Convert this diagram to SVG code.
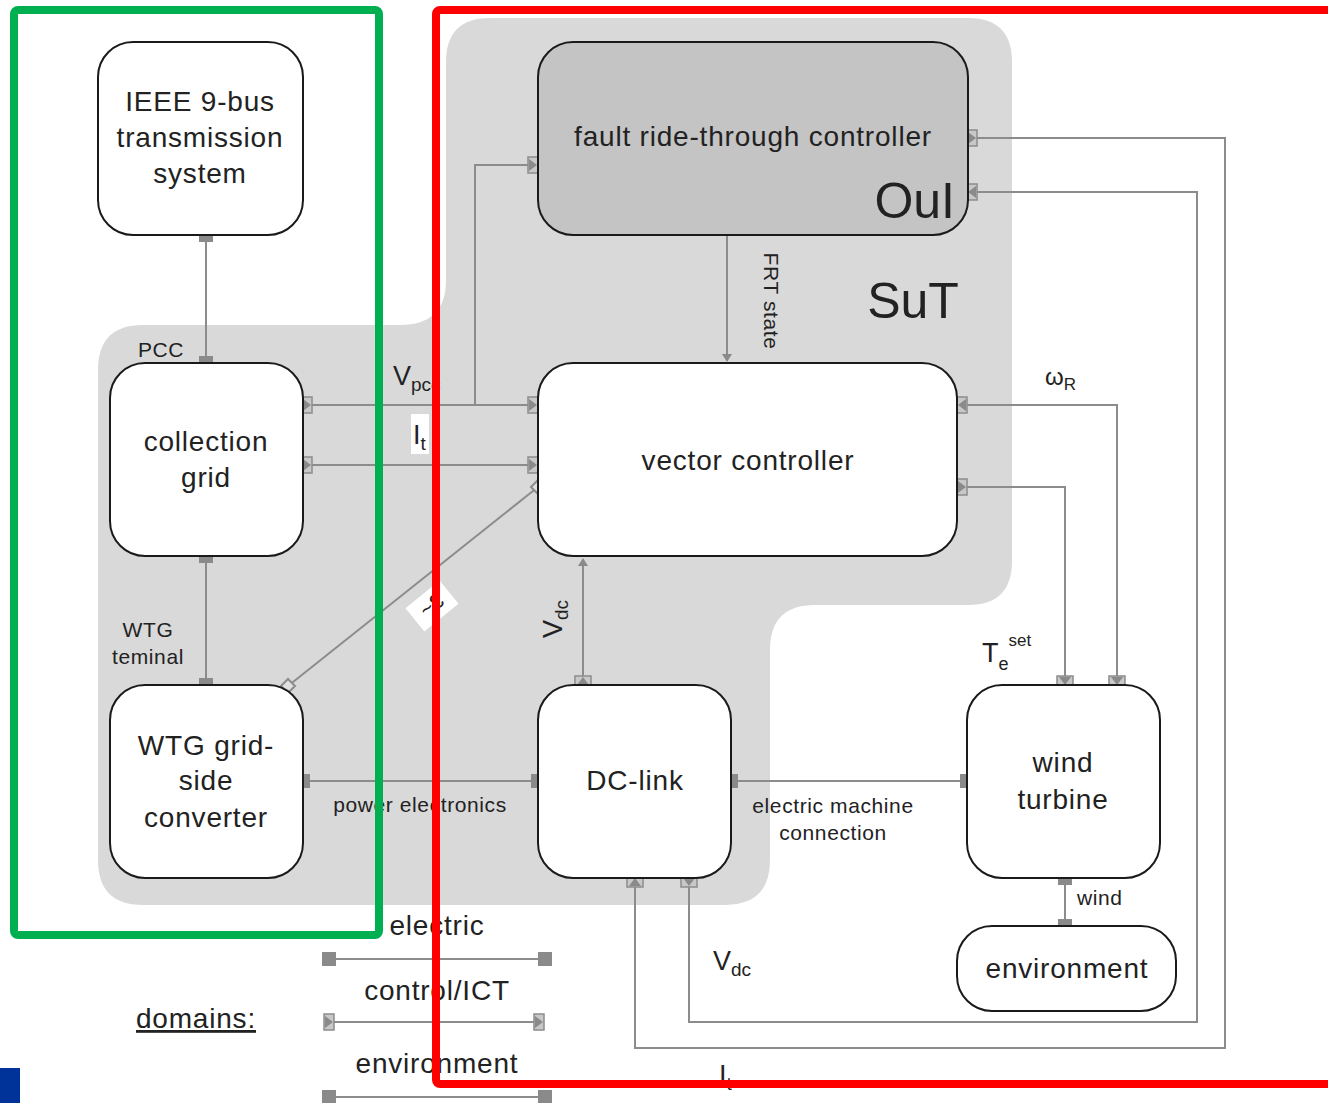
<svg xmlns="http://www.w3.org/2000/svg" width="1328" height="1103" viewBox="0 0 1328 1103">
  <style>
    text { font-family: "Liberation Sans", Arial, sans-serif; fill: #222; }
    .node { fill: #fff; stroke: #1a1a1a; stroke-width: 2; }
    .oui { fill: #c4c4c4; stroke: #1a1a1a; stroke-width: 2; }
    .lbl { font-size: 28px; letter-spacing: 0.8px; text-anchor: middle; }
    .small { font-size: 21px; letter-spacing: 0.6px; }
    .wire { fill: none; stroke: #8c8c8c; stroke-width: 2; }
    .ep { fill: #8a8a8a; }
    .cp { fill: #c8c8c8; stroke: #8c8c8c; stroke-width: 1.5; }
    .cptri { fill: #8a8a8a; }
  </style>
  <defs>
    <!-- electric port -->
    <rect id="ep" class="ep" x="-7" y="-7" width="14" height="14"/>
    <!-- control ports on vertical edges -->
    <g id="cpR"><rect class="cp" x="-5" y="-8" width="10" height="16"/><path class="cptri" d="M-4,-6 L4,0 L-4,6 Z"/></g>
    <g id="cpL"><rect class="cp" x="-5" y="-8" width="10" height="16"/><path class="cptri" d="M4,-6 L-4,0 L4,6 Z"/></g>
    <!-- control ports on horizontal edges -->
    <g id="cpD"><rect class="cp" x="-8" y="-5" width="16" height="10"/><path class="cptri" d="M-6,-4 L0,4 L6,-4 Z"/></g>
    <g id="cpU"><rect class="cp" x="-8" y="-5" width="16" height="10"/><path class="cptri" d="M-6,4 L0,-4 L6,4 Z"/></g>
    <!-- diamond port -->
    <path id="dp" d="M0,-7 L7,0 L0,7 L-7,0 Z" fill="#e0e0e0" stroke="#8c8c8c" stroke-width="2"/>
  </defs>

  <rect width="1328" height="1103" fill="#fff"/>

  <!-- system under test area -->
  <path id="sut-area" d="M490,18 H968 Q1012,18 1012,62 V561 Q1012,605 968,605 H815 Q770,605 770,650 V860 Q770,905 725,905 H143 Q98,905 98,860 V370 Q98,325 143,325 H400 Q446,325 446,280 V62 Q446,18 490,18 Z" fill="#d9d9d9"/>
  <text x="913" y="318" font-size="50" text-anchor="middle">SuT</text>

  <!-- connectors -->
  <g id="connectors">
    <line class="wire" x1="206" y1="235" x2="206" y2="363"/>
    <line class="wire" x1="206" y1="556" x2="206" y2="685"/>
    <line class="wire" x1="303" y1="781" x2="538" y2="781"/>
    <line class="wire" x1="731" y1="781" x2="967" y2="781"/>
    <line class="wire" x1="1065" y1="878" x2="1065" y2="926"/>
    <line class="wire" x1="303" y1="405" x2="533" y2="405"/>
    <polyline class="wire" points="475,405 475,165 533,165"/>
    <line class="wire" x1="303" y1="465" x2="533" y2="465"/>
    <line class="wire" x1="538" y1="487" x2="288" y2="686"/>
    <line class="wire" x1="727" y1="235" x2="727" y2="358"/>
    <path d="M722,354 L732,354 L727,362 Z" fill="#8a8a8a"/>
    <line class="wire" x1="583" y1="680" x2="583" y2="562"/>
    <path d="M578,566 L588,566 L583,558 Z" fill="#8a8a8a"/>
    <polyline class="wire" points="962,405 1117,405 1117,681"/>
    <polyline class="wire" points="962,487 1065,487 1065,681"/>
    <polyline class="wire" points="972,138 1225,138 1225,1048 635,1048 635,882"/>
    <polyline class="wire" points="972,192 1197,192 1197,1022 689,1022 689,882"/>

    <!-- ports -->
    <use href="#ep" x="206" y="235"/>
    <use href="#ep" x="206" y="363"/>
    <use href="#ep" x="206" y="556"/>
    <use href="#ep" x="206" y="685"/>
    <use href="#ep" x="303" y="781"/>
    <use href="#ep" x="538" y="781"/>
    <use href="#ep" x="731" y="781"/>
    <use href="#ep" x="967" y="781"/>
    <use href="#ep" x="1065" y="878"/>
    <use href="#ep" x="1065" y="926"/>
    <use href="#cpR" x="307" y="405"/>
    <use href="#cpR" x="307" y="465"/>
    <use href="#cpR" x="533" y="405"/>
    <use href="#cpR" x="533" y="465"/>
    <use href="#cpR" x="533" y="165"/>
    <use href="#cpR" x="972" y="138"/>
    <use href="#cpL" x="972" y="192"/>
    <use href="#cpL" x="962" y="405"/>
    <use href="#cpR" x="962" y="487"/>
    <use href="#cpD" x="1065" y="681"/>
    <use href="#cpD" x="1117" y="681"/>
    <use href="#cpU" x="583" y="681"/>
    <use href="#cpU" x="635" y="882"/>
    <use href="#cpD" x="689" y="882"/>
    <use href="#dp" x="538" y="487"/>
    <use href="#dp" x="288" y="686"/>
  </g>

  <!-- connector labels -->
  <text x="161" y="357" class="small" text-anchor="middle">PCC</text>
  <text x="393" y="385" font-size="27">V<tspan font-size="19" dy="6">pcc</tspan></text>
  <rect x="411" y="414" width="18" height="40" fill="#fff"/>
  <text x="413" y="444" font-size="27">I<tspan font-size="19" dy="6">t</tspan></text>
  <text x="148" y="637" class="small" text-anchor="middle">WTG</text>
  <text x="148" y="664" class="small" text-anchor="middle">teminal</text>
  <text x="420" y="812" class="small" text-anchor="middle">power electronics</text>
  <text x="833" y="813" class="small" text-anchor="middle">electric machine</text>
  <text x="833" y="840" class="small" text-anchor="middle">connection</text>
  <text transform="translate(764,301) rotate(90)" class="small" text-anchor="middle">FRT state</text>
  <text transform="translate(562,638) rotate(-90)" font-size="27">V<tspan font-size="19" dy="6">dc</tspan></text>
  <text x="1045" y="385" font-size="24">ω<tspan font-size="17" dy="5">R</tspan></text>
  <text x="982" y="662" font-size="27">T<tspan font-size="18" dy="8">e</tspan><tspan font-size="17" dy="-24">set</tspan></text>
  <text x="1077" y="905" class="small">wind</text>
  <text x="713" y="970" font-size="27">V<tspan font-size="19" dy="6">dc</tspan></text>
  <text x="719" y="1084" font-size="27">I<tspan font-size="19" dy="6">t</tspan></text>
  <g transform="translate(432,606) rotate(141)">
    <rect x="-22" y="-15" width="44" height="30" fill="#fff"/>
    <text x="0" y="8" class="small" text-anchor="middle">3~</text>
  </g>

  <!-- nodes -->
  <g id="ieee">
    <rect class="node" x="98" y="42" width="205" height="193" rx="35"/>
    <text class="lbl" x="200" y="111">IEEE 9-bus</text>
    <text class="lbl" x="200" y="147">transmission</text>
    <text class="lbl" x="200" y="183">system</text>
  </g>
  <g id="collection-grid">
    <rect class="node" x="110" y="363" width="193" height="193" rx="35"/>
    <text class="lbl" x="206" y="451">collection</text>
    <text class="lbl" x="206" y="487">grid</text>
  </g>
  <g id="wtg-converter">
    <rect class="node" x="110" y="685" width="193" height="193" rx="35"/>
    <text class="lbl" x="206" y="755">WTG grid-</text>
    <text class="lbl" x="206" y="790">side</text>
    <text class="lbl" x="206" y="827">converter</text>
  </g>
  <g id="frt-controller">
    <rect class="oui" x="538" y="42" width="430" height="193" rx="35"/>
    <text class="lbl" x="753" y="146">fault ride-through controller</text>
    <text x="955" y="218" font-size="50" text-anchor="end">OuI</text>
  </g>
  <g id="vector-controller">
    <rect class="node" x="538" y="363" width="419" height="193" rx="35"/>
    <text class="lbl" x="748" y="470">vector controller</text>
  </g>
  <g id="dc-link">
    <rect class="node" x="538" y="685" width="193" height="193" rx="35"/>
    <text class="lbl" x="635" y="790">DC-link</text>
  </g>
  <g id="wind-turbine">
    <rect class="node" x="967" y="685" width="193" height="193" rx="35"/>
    <text class="lbl" x="1063" y="772">wind</text>
    <text class="lbl" x="1063" y="809">turbine</text>
  </g>
  <g id="environment">
    <rect class="node" x="957" y="926" width="219" height="85" rx="35"/>
    <text class="lbl" x="1067" y="978">environment</text>
  </g>

  <!-- legend -->
  <g id="legend">
    <text class="lbl" x="196" y="1028" text-decoration="underline">domains:</text>
    <text class="lbl" x="437" y="935">electric</text>
    <line class="wire" x1="329" y1="959" x2="545" y2="959"/>
    <use href="#ep" x="329" y="959"/>
    <use href="#ep" x="545" y="959"/>
    <text class="lbl" x="437" y="1000">control/ICT</text>
    <line class="wire" x1="329" y1="1022" x2="539" y2="1022"/>
    <use href="#cpR" x="329" y="1022"/>
    <use href="#cpR" x="539" y="1022"/>
    <text class="lbl" x="437" y="1073">environment</text>
    <line class="wire" x1="329" y1="1097" x2="545" y2="1097"/>
    <use href="#ep" x="329" y="1097"/>
    <use href="#ep" x="545" y="1097"/>
  </g>

  <!-- highlight frames -->
  <rect x="14" y="10" width="365" height="925" rx="4" fill="none" stroke="#00b050" stroke-width="8"/>
  <rect x="436" y="10" width="1000" height="1074" rx="4" fill="none" stroke="#ff0000" stroke-width="8"/>
  <rect x="0" y="1068" width="20" height="35" fill="#003399"/>
</svg>
